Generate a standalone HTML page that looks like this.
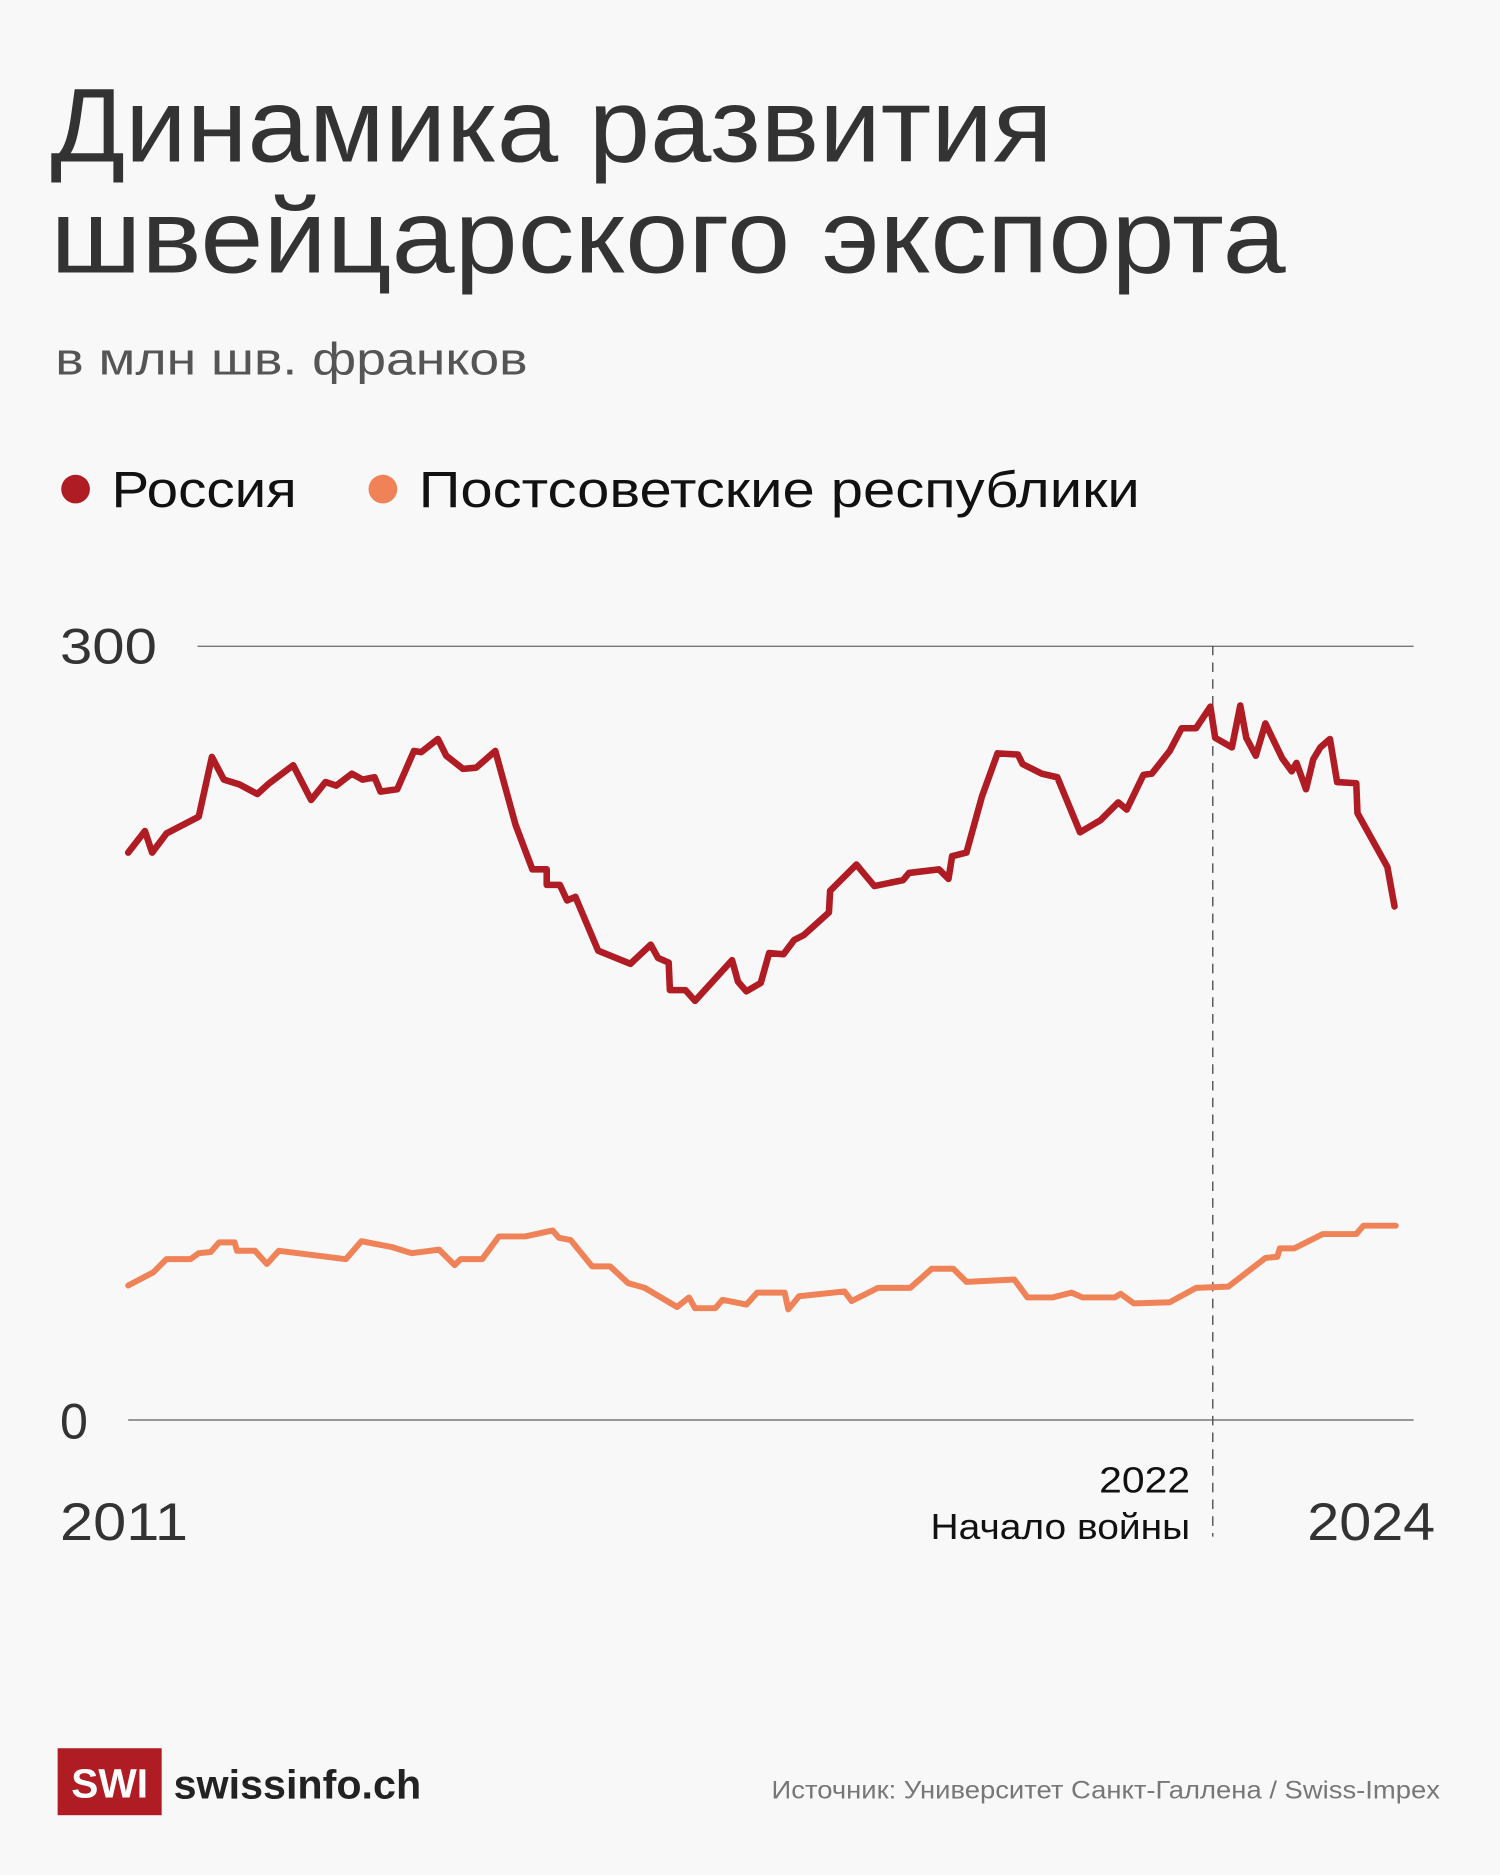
<!DOCTYPE html>
<html><head><meta charset="utf-8">
<style>
html,body{margin:0;padding:0;background:#f8f8f8;}
svg{display:block;}
text{font-family:"Liberation Sans","DejaVu Sans",sans-serif;}
</style></head>
<body>
<svg width="1500" height="1875" viewBox="0 0 1254 1568" xmlns="http://www.w3.org/2000/svg">
<rect width="1254" height="1568" fill="#f8f8f8"/>
<text x="42" y="135" font-size="88" fill="#333" textLength="838" lengthAdjust="spacingAndGlyphs">Динамика развития</text>
<text x="42" y="228" font-size="88" fill="#333" textLength="1033" lengthAdjust="spacingAndGlyphs">швейцарского экспорта</text>
<text x="46" y="313" font-size="38" fill="#555" textLength="395" lengthAdjust="spacingAndGlyphs">в млн шв. франков</text>
<circle cx="63" cy="409" r="12" fill="#b01c24"/>
<text x="93" y="424" font-size="43" fill="#111" textLength="155" lengthAdjust="spacingAndGlyphs">Россия</text>
<circle cx="320" cy="409" r="12" fill="#f08258"/>
<text x="350" y="424" font-size="43" fill="#111" textLength="603" lengthAdjust="spacingAndGlyphs">Постсоветские республики</text>

<line x1="165" y1="540.5" x2="1182" y2="540.5" stroke="#777" stroke-width="1.2"/>
<line x1="107" y1="1187.5" x2="1182" y2="1187.5" stroke="#777" stroke-width="1.2"/>
<text x="50" y="555" font-size="42" fill="#333" textLength="81" lengthAdjust="spacingAndGlyphs">300</text>
<text x="50" y="1203" font-size="42" fill="#333">0</text>
<line x1="1014" y1="540" x2="1014" y2="1285" stroke="#555" stroke-width="1.2" stroke-dasharray="8,6"/>
<text x="919" y="1248" font-size="30" fill="#111" textLength="76" lengthAdjust="spacingAndGlyphs">2022</text>
<text x="778" y="1287" font-size="30" fill="#111" textLength="217" lengthAdjust="spacingAndGlyphs">Начало войны</text>
<text x="50" y="1288" font-size="44" fill="#333" textLength="107" lengthAdjust="spacingAndGlyphs">2011</text>
<text x="1093" y="1288" font-size="44" fill="#333" textLength="107" lengthAdjust="spacingAndGlyphs">2024</text>

<polyline fill="none" stroke="#b01c24" stroke-width="5.5" stroke-linejoin="round" stroke-linecap="round" points="107,713 121,695 127,713 139,697 166,683 177,633 187,652 200,656 215,664 225,655 245,640 260,669 272,654 281,657 294,647 303,652 313,650 318,662 332,660 346,628 352,629 366,618 373,632 387,643 398,642 414,628 431,690 445,727 457,727 457,740 468,740 474,753 481,750 500,795 527,806 544,790 550,801 559,805 560,828 573,828 581,837 612,803 617,821 624,829 636,822 643,797 655,798 664,786 672,782 693,763 694,745 716,723 731,741 755,736 760,730 785,727 793,735 796,716 808,713 821,666 834,630 851,631 855,639 871,647 884,650 903,696 920,686 935,671 942,677 956,648 963,647 978,628 988,609 1000,609 1012,591 1016,617 1030,625 1037,590 1042,617 1050,632 1058,605 1072,634 1080,645 1084,638 1092,660 1098,635 1104,625 1112,618 1118,654 1134,655 1135,680 1160,725 1166,758"/>
<polyline fill="none" stroke="#f08258" stroke-width="5" stroke-linejoin="round" stroke-linecap="round" points="107,1075 128,1064 139,1053 159,1053 166,1048 176,1047 183,1039 196,1039 198,1046 213,1046 223,1057 233,1046 289,1053 302,1038 328,1043 344,1048 367,1045 380,1058 385,1053 403,1053 417,1034 439,1034 462,1029 467,1035 477,1037 495,1059 510,1059 525,1073 539,1077 566,1093 576,1085 581,1094 598,1094 604,1087 624,1091 633,1081 656,1081 659,1095 668,1084 706,1080 712,1088 734,1077 761,1077 779,1061 797,1061 808,1072 848,1070 859,1085 880,1085 896,1081 905,1085 932,1085 937,1082 948,1090 978,1089 1000,1077 1027,1076 1058,1052 1068,1051 1070,1044 1082,1044 1106,1032 1134,1032 1140,1025 1167,1025"/>

<rect x="48" y="1462" width="87" height="56" fill="#b01c24"/>
<text x="91.5" y="1503" font-size="34" font-weight="bold" fill="#fff" text-anchor="middle">SWI</text>
<text x="145" y="1504" font-size="34" font-weight="bold" fill="#222" textLength="207" lengthAdjust="spacingAndGlyphs">swissinfo.ch</text>
<text x="645" y="1504" font-size="21" fill="#777" textLength="559" lengthAdjust="spacingAndGlyphs">Источник: Университет Санкт-Галлена / Swiss-Impex</text>
</svg>
</body></html>
